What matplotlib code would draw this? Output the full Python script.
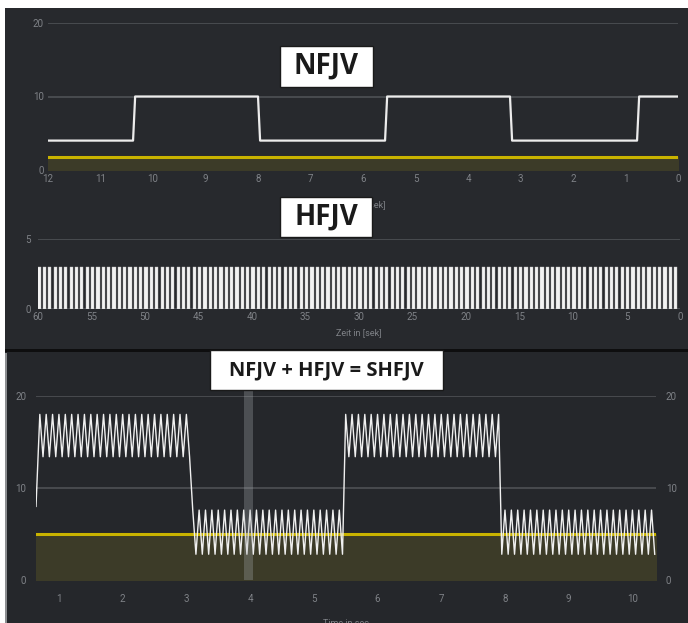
import numpy as np
import matplotlib
matplotlib.use('Agg')
import matplotlib.pyplot as plt
from matplotlib.patches import Rectangle

W, H = 688, 623  # Bildgröße in Pixel

# NFJV: Rechteckwelle (Werte in Sekunden, von 12 nach 0 gezählt)
nfjv_levels = [4.0, 10.0]                       # niedrig / hoch
nfjv_switch_s = [12.0, 10.38, 8.0, 5.58, 3.2, 0.78, 0.0]
nfjv_peep = 1.8
nfjv_xticks = [12, 11, 10, 9, 8, 7, 6, 5, 4, 3, 2, 1, 0]

# HFJV: Balken
hfjv_rate_hz = 2
hfjv_amp = 3.0
hfjv_xticks = [60, 55, 50, 45, 40, 35, 30, 25, 20, 15, 10, 5, 0]

# SHFJV = NFJV + HFJV
shfjv_edges = [0.64, 3.07, 5.46, 7.95, 10.37]
shfjv_bands = [(13.4, 18.0), (2.8, 7.6), (13.4, 18.0), (2.8, 7.6)]  # (min, max) je Phase
shfjv_start = 8.0
shfjv_osc_hz = 10
shfjv_peep = 5.0
shfjv_marker = 3.97
shfjv_xticks = [1, 2, 3, 4, 5, 6, 7, 8, 9, 10]

bg = '#27292d'
grid_c = '#4e5155'
tick_c = '#7f8287'
yellow = '#c9b300'
olive = '#3c3b28'
font = ['Roboto', 'DejaVu Sans']

plt.rcParams['font.family'] = font


def px_axes(fig, left, top, right, bottom):
    return fig.add_axes([left / W, 1 - bottom / H, (right - left) / W, (bottom - top) / H])


def style(ax, yticks, pad_x, pad_y):
    ax.set_facecolor('none')
    for s in ax.spines.values():
        s.set_visible(False)
    ax.set_yticks(yticks)
    ax.tick_params(length=0, colors=tick_c, labelsize=7)
    ax.tick_params(axis='x', pad=pad_x)
    ax.tick_params(axis='y', pad=pad_y)
    for y in yticks:
        ax.axhline(y, color=grid_c, lw=1.2, zorder=1)


def box(fig, left, top, right, bottom, text, size):
    fig.add_artist(Rectangle((left / W, 1 - bottom / H), (right - left) / W, (bottom - top) / H,
                             transform=fig.transFigure, fc='white', ec='#1a1a1a', lw=1, zorder=10))
    fig.text((left + right) / 2 / W, 1 - (top + bottom) / 2 / H, text, ha='center', va='center',
             fontsize=size, fontweight='bold', family=['Open Sans', 'DejaVu Sans'],
             color='#1a1a1a', zorder=11)


fig = plt.figure(figsize=(W / 100, H / 100), dpi=100, facecolor='white')

# Hintergründe
fig.add_artist(Rectangle((5 / W, 1 - 349 / H), 683 / W, 341 / H, transform=fig.transFigure,
                         fc=bg, ec='none', zorder=0))
fig.add_artist(Rectangle((5 / W, 0), 683 / W, 271 / H, transform=fig.transFigure,
                         fc='#25272b', ec='none', zorder=0))
fig.add_artist(Rectangle((5 / W, 1 - 352 / H), 683 / W, 3 / H, transform=fig.transFigure,
                         fc='#0e0e0f', ec='none', zorder=0))
fig.add_artist(Rectangle((5 / W, 0), 1.5 / W, 270 / H, transform=fig.transFigure,
                         fc='#8c8e91', ec='none', zorder=0))

# --- NFJV ---
ax1 = px_axes(fig, 48, 23, 678, 170)
ax1.set_xlim(12, 0)
ax1.set_ylim(0, 20)
style(ax1, [0, 10, 20], 3, 3)
ax1.set_xticks(nfjv_xticks)
t_nf, y_nf = [], []
for i in range(len(nfjv_switch_s) - 1):
    lvl = nfjv_levels[i % 2]
    t_nf += [nfjv_switch_s[i] - (0.04 if i else 0), nfjv_switch_s[i + 1]]
    y_nf += [lvl, lvl]
ax1.fill_between([12, 0], 0, nfjv_peep, color=olive, zorder=2)
ax1.axhline(nfjv_peep, color=yellow, lw=2.2, zorder=3)
ax1.plot(t_nf, y_nf, color='#ececec', lw=1.6, zorder=4)
ax1.set_xlabel('Zeit in [sek]', color=tick_c, fontsize=6.5)
ax1.xaxis.set_label_coords(0.5, -0.205)

# --- HFJV ---
ax2 = px_axes(fig, 38, 239, 680, 309)
ax2.set_xlim(60, 0)
ax2.set_ylim(0, 5)
style(ax2, [0, 5], 2, 5)
ax2.set_xticks(hfjv_xticks)
starts = np.arange(0, 60, 1 / hfjv_rate_hz)
ax2.bar(starts + 0.5 / hfjv_rate_hz, hfjv_amp, width=0.6 / hfjv_rate_hz, align='edge',
        color='#f2f2f2', edgecolor='#bdbdbd', lw=0.3, zorder=4)
ax2.set_xlabel('Zeit in [sek]', color=tick_c, fontsize=6.5)
ax2.xaxis.set_label_coords(0.5, -0.28)

# --- SHFJV ---
ax3 = px_axes(fig, 36, 396, 656, 580)
ax3.set_xlim(shfjv_edges[0], shfjv_edges[-1])
ax3.set_ylim(0, 20)
style(ax3, [0, 10, 20], 10, 7)
ax3.tick_params(axis='y', labelright=True)
ax3.set_xticks(shfjv_xticks)
t3 = np.arange(0.70, shfjv_edges[-1], 1 / (2 * shfjv_osc_hz))
seg = np.clip(np.searchsorted(shfjv_edges, t3) - 1, 0, len(shfjv_bands) - 1)
lo = np.array([shfjv_bands[s][0] for s in seg])
hi = np.array([shfjv_bands[s][1] for s in seg])
y3 = np.where(np.arange(len(t3)) % 2 == 0, hi, lo)
t3 = np.r_[shfjv_edges[0], t3]
y3 = np.r_[shfjv_start, y3]
ax3.fill_between([shfjv_edges[0], shfjv_edges[-1]], 0, shfjv_peep, color=olive, zorder=2)
ax3.axhline(shfjv_peep, color=yellow, lw=2.2, zorder=3)
ax3.plot(t3, y3, color='#f0f0f0', lw=1.0, zorder=4)
ax3.axvspan(shfjv_marker - 0.07, shfjv_marker + 0.07, ymin=0, ymax=1.06, color='#a9adb2',
            alpha=0.3, lw=0, clip_on=False, zorder=5)
ax3.set_xlabel('Time in sec', color=tick_c, fontsize=6.5)
ax3.xaxis.set_label_coords(0.5, -0.212)

# Beschriftungskästen
box(fig, 280, 46, 373, 87, 'NFJV', 20)
box(fig, 280, 197, 372, 237, 'HFJV', 20)
box(fig, 210, 350, 443, 390, 'NFJV + HFJV = SHFJV', 14.5)

fig.savefig('out.png', dpi=100, facecolor='white')
